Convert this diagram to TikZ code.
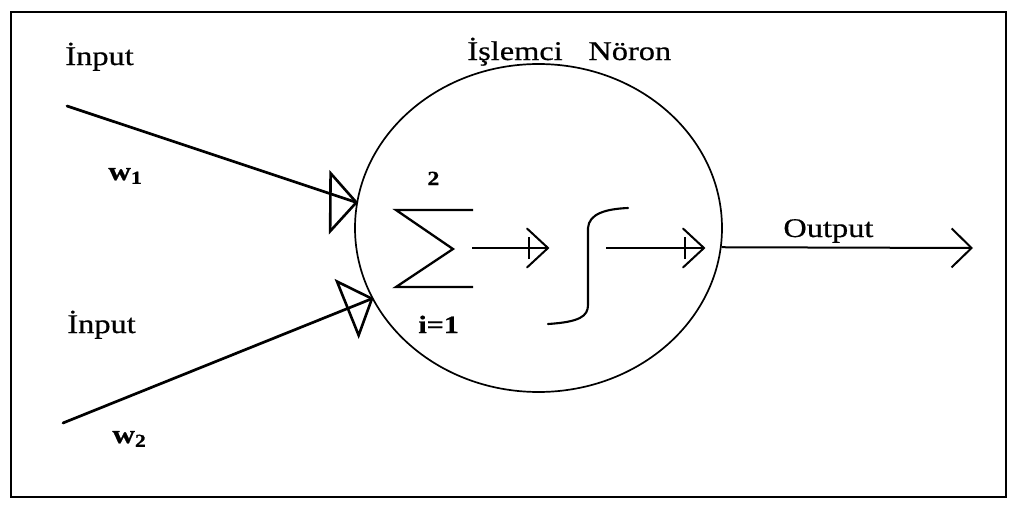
\documentclass[tikz,border=0pt]{standalone}
\usepackage{fontspec}
\setmainfont{Liberation Serif}[FakeStretch=1.2,FakeBold=0.6]
\usetikzlibrary{arrows.meta,shapes.geometric,decorations.markings}

\begin{document}
\begin{tikzpicture}[x=0.5pt,y=-0.5pt]
\tikzset{
  txt/.style={anchor=base west,inner sep=0pt,font=\fontsize{13.5}{16}\selectfont},
  boldtxt/.style={txt,font=\fontsize{13}{16}\selectfont\bfseries},
  frame/.style={draw=black,line width=1pt},
  neuronshape/.style={ellipse,draw=black,line width=0.85pt,minimum width=183.5pt,minimum height=164pt,inner sep=0pt},
  inputedge/.style={draw=black,line width=1.35pt,line cap=round,
    postaction={decorate,decoration={markings,mark=at position 1 with {\draw[rotate=#1,line width=1.3pt,line join=miter] (-13pt,-14.5pt) -- (0pt,0pt) -- (-13pt,14.5pt) -- cycle;}}}},
  inputedge/.default=0,
  inneredge/.style={draw=black,line width=1pt,
    postaction={decorate,decoration={markings,mark=at position 1 with {\draw[line width=1pt,line cap=round] (-10.5pt,-9.75pt) -- (0pt,0pt) -- (-10.5pt,9.75pt);
      \draw[line width=1pt] (-9.5pt,-5.5pt) -- (-9.5pt,5.5pt);}}}},
  outedge/.style={draw=black,line width=1pt,-{Straight Barb[length=10pt,width=19.5pt]}},
  sumsign/.style={draw=black,line width=1.15pt,line join=miter},
  sigmoid/.style={draw=black,line width=1.05pt,line cap=round}
}
\useasboundingbox (0,0) rectangle (1014,509);
\draw[frame] (11,12) rectangle (1006,497);
% neuron body
\node[neuronshape] (neuron) at (538.5,228) {};
\node[txt] (t_neuron) at (467,60) {İşlemci\hspace{0.95em}Nöron};
% inputs
\coordinate (in1) at (67,106);
\coordinate (in2) at (63,423);
\node[txt] (t_in1) at (65,65) {İnput};
\node[txt] (t_in2) at (67,333) {İnput};
\node[boldtxt] (t_w1) at (108,180) {w\textsubscript{1}};
\node[boldtxt] (t_w2) at (112,443) {w\textsubscript{2}};
\draw[inputedge=18] (in1) -- (neuron.172);
\draw[inputedge] (in2) -- (neuron.203);
% summation
\draw[sumsign] (473,210) -- (396,210) -- (453,249) -- (396,287) -- (473,287);
\node[txt,font=\fontsize{10}{12}\selectfont\bfseries] (t_top) at (427,185) {2};
\node[txt,font=\fontsize{12.5}{14}\selectfont\bfseries] (t_bot) at (418,333) {i=1};
\coordinate (sumout) at (472,248);
\coordinate (sigin) at (548,248);
% activation
\draw[sigmoid] (548,324) .. controls (580,322) and (588,316) .. (588,305) -- (588,228)
  .. controls (589,214) and (605,209) .. (628,208);
\coordinate (sigout) at (606,248);
\coordinate (tipn) at (704,248);
\draw[inneredge] (sumout) -- (sigin);
\draw[inneredge] (sigout) -- (tipn);
% output
\coordinate (outend) at (973,248);
\draw[outedge] (neuron.-6) -- (outend);
\node[txt] (t_out) at (783,237) {Output};
\end{tikzpicture}
\end{document}
